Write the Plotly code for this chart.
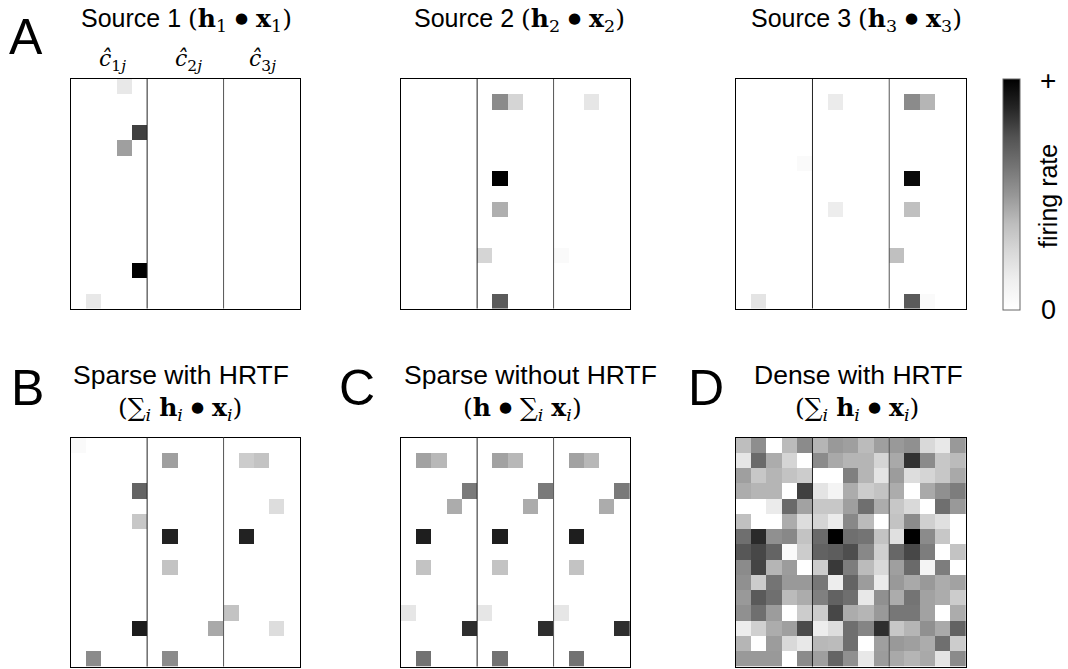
import numpy as np
import plotly.graph_objects as go

W, H = 1068, 669
N = 15  # 3 HRTF blocks x 5 columns, 15 rows

# Sparse panels: (row, column, firing rate)
source1 = [(0, 3, 0.17), (3, 4, 0.80), (4, 3, 0.47), (12, 4, 1.00), (14, 1, 0.17)]
source2 = [(1, 6, 0.54), (1, 7, 0.27), (1, 12, 0.18), (6, 6, 1.00), (8, 6, 0.42),
           (11, 5, 0.27), (11, 10, 0.04), (14, 6, 0.72)]
source3 = [(1, 6, 0.15), (1, 11, 0.54), (1, 12, 0.40), (5, 4, 0.04), (6, 11, 0.97),
           (8, 6, 0.14), (8, 11, 0.36), (11, 10, 0.36), (14, 1, 0.19), (14, 11, 0.72),
           (14, 12, 0.04)]
sparse_hrtf = [(0, 0, 0.04), (1, 6, 0.47), (1, 11, 0.31), (1, 12, 0.35), (3, 4, 0.68),
               (4, 13, 0.23), (5, 4, 0.33), (6, 6, 0.885), (6, 11, 0.885), (8, 6, 0.35),
               (11, 10, 0.35), (12, 4, 0.91), (12, 9, 0.44), (12, 13, 0.23), (14, 1, 0.54),
               (14, 6, 0.54)]
# Without HRTF every block carries the same 5-column pattern
no_hrtf_block = [(1, 1, 0.46), (1, 2, 0.39), (3, 4, 0.60), (4, 3, 0.43), (6, 1, 0.90),
                 (8, 1, 0.35), (11, 0, 0.18), (12, 4, 0.85), (14, 1, 0.63)]

# Dense code with HRTF (15 x 15)
dense_hrtf = [
    [0.37, 0.53, 0.00, 0.38, 0.54, 0.40, 0.49, 0.47, 0.38, 0.47, 0.49, 0.52, 0.25, 0.17, 0.49],
    [0.18, 0.66, 0.43, 0.27, 0.00, 0.54, 0.44, 0.40, 0.40, 0.27, 0.44, 0.84, 0.54, 0.33, 0.38],
    [0.47, 0.33, 0.40, 0.35, 0.31, 0.00, 0.00, 0.58, 0.40, 0.19, 0.48, 0.23, 0.27, 0.33, 0.44],
    [0.43, 0.40, 0.40, 0.00, 0.80, 0.19, 0.09, 0.43, 0.31, 0.35, 0.43, 0.00, 0.44, 0.52, 0.59],
    [0.00, 0.00, 0.15, 0.66, 0.46, 0.33, 0.33, 0.47, 0.64, 0.43, 0.33, 0.25, 0.00, 0.64, 0.49],
    [0.36, 0.00, 0.00, 0.43, 0.23, 0.27, 0.15, 0.55, 0.38, 0.00, 0.35, 0.54, 0.29, 0.21, 0.00],
    [0.64, 0.86, 0.52, 0.55, 0.35, 0.66, 1.00, 0.64, 0.62, 0.35, 0.21, 1.00, 0.54, 0.33, 0.00],
    [0.73, 0.78, 0.68, 0.04, 0.31, 0.69, 0.71, 0.76, 0.55, 0.29, 0.67, 0.78, 0.59, 0.00, 0.35],
    [0.54, 0.79, 0.40, 0.48, 0.00, 0.31, 0.82, 0.59, 0.38, 0.25, 0.47, 0.66, 0.09, 0.59, 0.00],
    [0.52, 0.31, 0.62, 0.49, 0.49, 0.61, 0.14, 0.68, 0.48, 0.15, 0.49, 0.44, 0.49, 0.43, 0.46],
    [0.49, 0.72, 0.64, 0.38, 0.43, 0.58, 0.69, 0.64, 0.17, 0.52, 0.43, 0.62, 0.46, 0.43, 0.31],
    [0.52, 0.64, 0.48, 0.00, 0.31, 0.31, 0.78, 0.43, 0.40, 0.49, 0.61, 0.61, 0.46, 0.00, 0.43],
    [0.14, 0.29, 0.43, 0.47, 0.77, 0.14, 0.23, 0.64, 0.56, 0.85, 0.33, 0.40, 0.52, 0.44, 0.69],
    [0.40, 0.00, 0.48, 0.25, 0.17, 0.39, 0.38, 0.64, 0.00, 0.47, 0.49, 0.47, 0.43, 0.64, 0.31],
    [0.49, 0.49, 0.49, 0.00, 0.54, 0.47, 0.68, 0.52, 0.17, 0.48, 0.44, 0.40, 0.44, 0.19, 0.54],
]

GREYS = [[0.0, "#ffffff"], [0.125, "#f0f0f0"], [0.25, "#d9d9d9"], [0.375, "#bdbdbd"],
         [0.5, "#969696"], [0.625, "#737373"], [0.75, "#525252"], [0.875, "#252525"],
         [1.0, "#000000"]]

SANS = "Liberation Sans"
SERIF = "DejaVu Serif"


def grid(entries):
    z = np.zeros((N, N))
    for r, c, v in entries:
        z[r, c] = v
    return z


no_hrtf = [(r, c + 5 * b, v) for b in range(3) for r, c, v in no_hrtf_block]

panels = [
    (grid(source1), (70.7, 300.0), (79.0, 308.5)),
    (grid(source2), (400.7, 630.0), (79.0, 308.5)),
    (grid(source3), (735.7, 966.0), (79.0, 308.5)),
    (grid(sparse_hrtf), (70.7, 300.0), (437.5, 666.5)),
    (grid(no_hrtf), (400.7, 630.0), (437.5, 666.5)),
    (np.array(dense_hrtf), (735.7, 966.0), (437.5, 666.5)),
]


def px(x):
    return x / W


def py(y):
    return 1 - y / H


fig = go.Figure()
shapes = []
for k, (z, (x0, x1), (y0, y1)) in enumerate(panels):
    n = k + 1
    xa = "x" if n == 1 else f"x{n}"
    ya = "y" if n == 1 else f"y{n}"
    fig.add_trace(go.Heatmap(
        z=z, x=list(range(N)), y=list(range(N)), xaxis=xa, yaxis=ya,
        colorscale=GREYS, zmin=0, zmax=1, zsmooth=False, hoverinfo="skip",
        showscale=(n == 3),
        colorbar=dict(
            thickness=17, thicknessmode="pixels", len=231, lenmode="pixels",
            x=px(1002.5), xanchor="left", xpad=0, y=py(194.5), yanchor="middle", ypad=0,
            outlinecolor="#666", outlinewidth=1, showticklabels=False, ticks="",
        ),
    ))
    axis_style = dict(showline=True, mirror=True, linecolor="black", linewidth=1.3,
                      showticklabels=False, ticks="", showgrid=False, zeroline=False,
                      fixedrange=True)
    fig.update_layout(**{
        ("xaxis" if n == 1 else f"xaxis{n}"): dict(domain=[px(x0), px(x1)], range=[-0.5, N - 0.5],
                                                   anchor=ya, **axis_style),
        ("yaxis" if n == 1 else f"yaxis{n}"): dict(domain=[py(y1), py(y0)], range=[N - 0.5, -0.5],
                                                   anchor=xa, **axis_style),
    })
    for sep, col in ((4.5, "#222"), (9.5, "#555")):
        shapes.append(dict(type="line", xref=xa, yref=f"{ya} domain", x0=sep, x1=sep,
                           y0=0, y1=1, line=dict(color=col, width=1)))


def bold(s):
    return f"<b>{s}</b>"


def math(s):
    return f'<span style="font-family:{SERIF}">{s}</span>'


BULLET = '<span style="font-size:15px;baseline-shift:4px">●</span>'

annotations = []


def label(text, x, y, size, family=SANS):
    annotations.append(dict(text=text, x=px(x), y=py(y), xref="paper", yref="paper",
                            xanchor="center", yanchor="middle", showarrow=False,
                            font=dict(family=family, size=size, color="black")))


# panel letters
for letter, (lx, ly) in zip("ABCD", [(26, 37), (27, 388), (357, 388), (706, 388)]):
    label(letter, lx, ly, 50)

# source titles
for i, cx in zip((1, 2, 3), (186, 519, 856)):
    label(f"Source {i} " + math(f"({bold('h')}<sub>{i}</sub> {BULLET} {bold('x')}<sub>{i}</sub>)"),
          cx, 20, 25)

# column labels above the first panel
for i, cx in zip((1, 2, 3), (112, 188, 262)):
    label(f"<i>ĉ</i><sub>{i}<i>j</i></sub>", cx, 60, 22, SERIF)

# bottom titles
label("Sparse with HRTF", 181, 375, 26.5)
label(math(f"(∑<sub><i>i</i></sub> {bold('h')}<sub><i>i</i></sub> {BULLET} {bold('x')}<sub><i>i</i></sub>)"),
      180, 409, 25)
label("Sparse without HRTF", 530, 375, 26.5)
label(math(f"({bold('h')} {BULLET} ∑<sub><i>i</i></sub> {bold('x')}<sub><i>i</i></sub>)"), 522, 409, 25)
label("Dense with HRTF", 858, 375, 26.5)
label(math(f"(∑<sub><i>i</i></sub> {bold('h')}<sub><i>i</i></sub> {BULLET} {bold('x')}<sub><i>i</i></sub>)"),
      857, 409, 25)

# colour bar annotations
label("+", 1048, 80, 28)
label("0", 1048, 310, 27)
annotations.append(dict(text="firing rate", x=px(1048), y=py(196), xref="paper", yref="paper",
                        xanchor="center", yanchor="middle", showarrow=False, textangle=-90,
                        font=dict(family=SANS, size=25, color="black")))

fig.update_layout(
    width=W, height=H, margin=dict(l=0, r=0, t=0, b=0),
    paper_bgcolor="white", plot_bgcolor="white",
    shapes=shapes, annotations=annotations, showlegend=False,
)

fig.write_html("out.html")
